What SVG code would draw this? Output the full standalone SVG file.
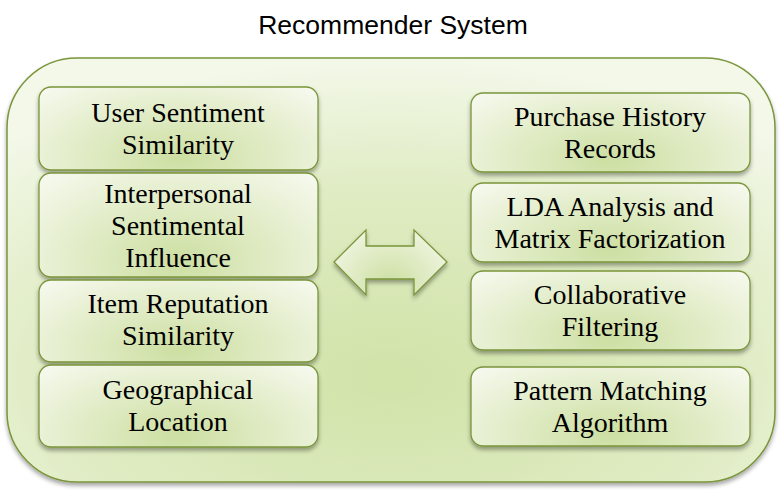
<svg xmlns="http://www.w3.org/2000/svg" width="781" height="493" viewBox="0 0 781 493">
<defs>
<radialGradient id="gOuter" cx="0.5" cy="0.75" r="0.75">
<stop offset="0" stop-color="#d1e3a8"/>
<stop offset="0.6" stop-color="#e0ecc4"/>
<stop offset="1" stop-color="#f3f8e9"/>
</radialGradient>
<radialGradient id="gBox" cx="0.5" cy="0.85" r="0.7" gradientTransform="translate(0.5 0.85) scale(1 1.6) translate(-0.5 -0.85)">
<stop offset="0" stop-color="#cddfa2"/>
<stop offset="0.55" stop-color="#e3edca"/>
<stop offset="1" stop-color="#f6f9ee"/>
</radialGradient>
<filter id="sh" x="-10%" y="-10%" width="120%" height="130%">
<feDropShadow dx="0" dy="3" stdDeviation="2" flood-color="#000" flood-opacity="0.35"/>
</filter>
</defs>
<style>
.outer{fill:url(#gOuter);stroke:#7a953a;stroke-width:1.5}
.box{fill:url(#gBox);stroke:#7a953a;stroke-width:1.3;filter:url(#sh)}
.lbl{font-family:"Liberation Serif","DejaVu Serif",serif;font-size:28px;fill:#000;text-anchor:middle}
.title{font-family:"Liberation Sans",Arial,sans-serif;font-size:26.5px;fill:#000;text-anchor:middle}
</style>
<text class="title" x="393" y="34">Recommender System</text>
<g id="container">
<rect class="outer" x="7" y="58" width="768" height="424" rx="70" ry="70" filter="url(#sh)"/>
</g>
<g id="n1"><rect class="box" x="39" y="87" width="279" height="83" rx="12"/>
<text class="lbl" x="178" y="122">User Sentiment</text><text class="lbl" x="178" y="154">Similarity</text></g>
<g id="n2"><rect class="box" x="39" y="173" width="279" height="104" rx="12"/>
<text class="lbl" x="178" y="203">Interpersonal</text><text class="lbl" x="178" y="235">Sentimental</text><text class="lbl" x="178" y="267">Influence</text></g>
<g id="n3"><rect class="box" x="39" y="280" width="279" height="82" rx="12"/>
<text class="lbl" x="178" y="313">Item Reputation</text><text class="lbl" x="178" y="345">Similarity</text></g>
<g id="n4"><rect class="box" x="39" y="365" width="279" height="82" rx="12"/>
<text class="lbl" x="178" y="399">Geographical</text><text class="lbl" x="178" y="431">Location</text></g>
<g id="n5"><rect class="box" x="471" y="93" width="279" height="79" rx="12"/>
<text class="lbl" x="610" y="126">Purchase History</text><text class="lbl" x="610" y="158">Records</text></g>
<g id="n6"><rect class="box" x="471" y="183" width="279" height="79" rx="12"/>
<text class="lbl" x="610" y="216">LDA Analysis and</text><text class="lbl" x="610" y="248">Matrix Factorization</text></g>
<g id="n7"><rect class="box" x="471" y="271" width="279" height="79" rx="12"/>
<text class="lbl" x="610" y="304">Collaborative</text><text class="lbl" x="610" y="336">Filtering</text></g>
<g id="n8"><rect class="box" x="471" y="367" width="279" height="79" rx="12"/>
<text class="lbl" x="610" y="400">Pattern Matching</text><text class="lbl" x="610" y="432">Algorithm</text></g>
<g id="connectors">
<path class="box" d="M334,262 L366,230 L366,246 L414,246 L414,230 L447,262 L414,295 L414,279 L366,279 L366,295 Z"/>
</g>
</svg>
